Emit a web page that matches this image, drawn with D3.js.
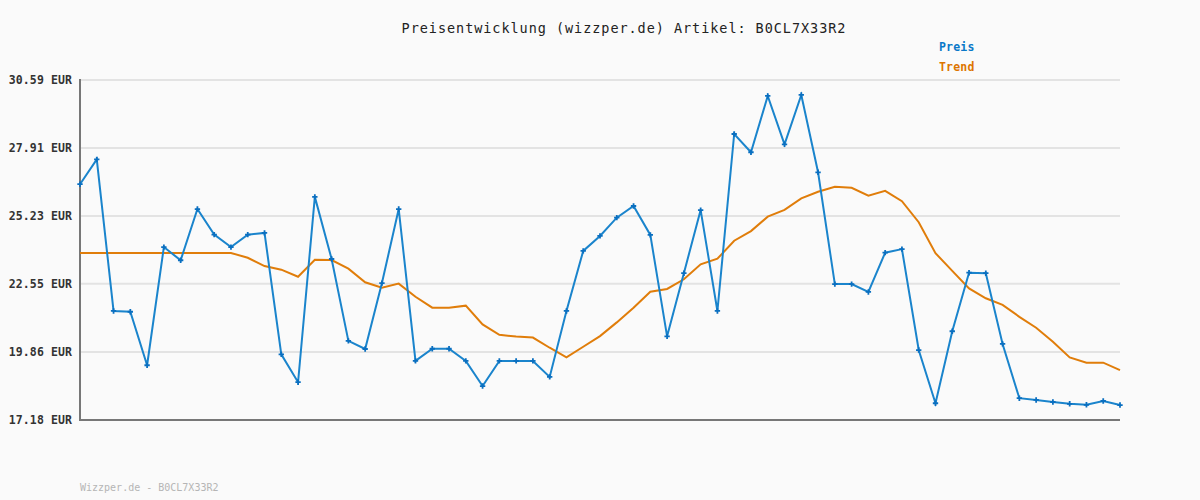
<!DOCTYPE html>
<html><head><meta charset="utf-8">
<script src="https://cdn.jsdelivr.net/npm/d3@7"></script>
<style>
html,body{margin:0;padding:0;background:#fafafa;}
svg{display:block;}
</style></head>
<body>
<svg id="c" width="1200" height="500"></svg>
<script>
const title = "Preisentwicklung (wizzper.de) Artikel: B0CL7X33R2";
const footer = "Wizzper.de - B0CL7X33R2";
const seriesNames = ["Preis", "Trend"];
const yTicks = [17.18, 19.86, 22.55, 25.23, 27.91, 30.59];
const preis = [26.48,27.46,21.48,21.45,19.34,24.00,23.48,25.50,24.49,24.00,
  24.49,24.56,19.77,18.67,25.98,23.53,20.30,19.98,22.58,25.50,
  19.51,19.99,19.99,19.51,18.52,19.51,19.51,19.51,18.88,21.48,
  23.85,24.44,25.16,25.62,24.48,20.48,22.97,25.46,21.48,28.46,
  27.74,29.96,28.05,30.00,26.95,22.54,22.54,22.23,23.78,23.92,
  19.94,17.84,20.68,22.99,22.97,20.18,18.04,17.97,17.89,17.82,
  17.78,17.93,17.77];
const trend = [23.77,23.77,23.77,23.77,23.77,23.77,23.77,23.77,23.77,23.77,
  23.58,23.25,23.11,22.83,23.50,23.49,23.15,22.61,22.40,22.56,
  22.04,21.61,21.61,21.69,20.95,20.54,20.47,20.43,20.03,19.65,
  20.07,20.49,21.03,21.61,22.24,22.35,22.73,23.32,23.54,24.25,
  24.63,25.20,25.47,25.92,26.18,26.38,26.34,26.03,26.22,25.81,
  24.98,23.76,23.06,22.37,21.98,21.72,21.25,20.82,20.27,19.65,
  19.44,19.44,19.15];

const colors = {Preis:"#1a84cc", Trend:"#e07d0a"};
const legendColors = {Preis:"#0a78c8", Trend:"#dd7500"};
const font = "'DejaVu Sans Mono', 'Liberation Mono', monospace";

const svg = d3.select("#c");
const L=80, R=1120, T=80, B=420;
const x = d3.scaleLinear().domain([0, preis.length-1]).range([L, R]);
const y = d3.scaleLinear().domain([yTicks[0], yTicks[yTicks.length-1]]).range([B, T]);

// gridlines
svg.append("g").selectAll("line").data(yTicks).join("line")
  .attr("x1", L).attr("x2", R)
  .attr("y1", d=>y(d)).attr("y2", d=>y(d))
  .attr("stroke", "#e3e3e3").attr("stroke-width", 2);

// y axis labels
const yAxis = d3.axisLeft(y).tickValues(yTicks).tickSize(0).tickPadding(8)
  .tickFormat(d=>d.toFixed(2)+" EUR");
const ga = svg.append("g").attr("transform", `translate(${L},0)`).call(yAxis);
ga.select(".domain").remove();
ga.selectAll("text").attr("font-family", font).attr("font-size", 11.5)
  .attr("font-weight", "bold").attr("fill", "#333").attr("letter-spacing", 0.1);

// axis lines
svg.append("line").attr("x1", L).attr("x2", L).attr("y1", T-1).attr("y2", B+1)
  .attr("stroke", "#777").attr("stroke-width", 2);
svg.append("line").attr("x1", L).attr("x2", R).attr("y1", B).attr("y2", B)
  .attr("stroke", "#777").attr("stroke-width", 2);

const line = d3.line().x((d,i)=>x(i)).y(d=>y(d));

svg.append("path").datum(trend).attr("d", line).attr("fill","none")
  .attr("stroke", colors.Trend).attr("stroke-width", 2);
svg.append("path").datum(preis).attr("d", line).attr("fill","none")
  .attr("stroke", colors.Preis).attr("stroke-width", 2);

svg.append("g").selectAll("path").data(preis).join("path")
  .attr("transform", (d,i)=>`translate(${x(i)},${y(d)})`)
  .attr("d", d3.symbol(d3.symbolCross, 16))
  .attr("fill", "#0a6fc0");

// title
svg.append("text").attr("x", 624).attr("y", 33).attr("text-anchor","middle")
  .attr("font-family", font).attr("font-size", 13.5).attr("letter-spacing", 0.95)
  .attr("fill", "#222").text(title);

// legend
svg.append("g").selectAll("text").data(seriesNames).join("text")
  .attr("x", 939).attr("y", (d,i)=>51+i*20)
  .attr("font-family", font).attr("font-size", 11.5).attr("font-weight","bold")
  .attr("letter-spacing", 0.2)
  .attr("fill", d=>legendColors[d]).text(d=>d);

// footer
svg.append("text").attr("x", 80).attr("y", 491)
  .attr("font-family", font).attr("font-size", 10).attr("fill", "#b5b5b5")
  .text(footer);
</script>
</body></html>
